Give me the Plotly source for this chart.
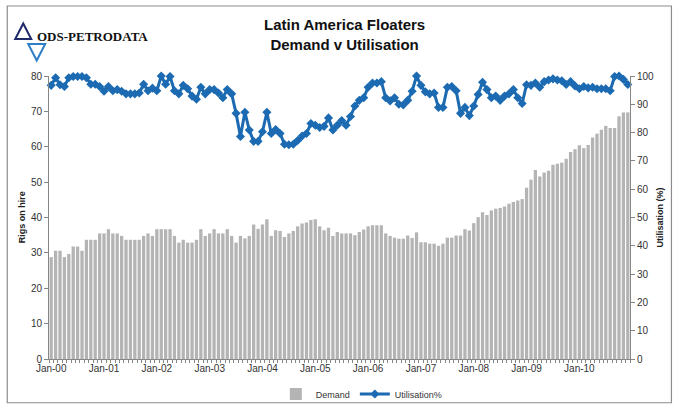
import plotly.graph_objects as go

# ---------------- data ----------------
year_labels = ["Jan-00", "Jan-01", "Jan-02", "Jan-03", "Jan-04", "Jan-05",
               "Jan-06", "Jan-07", "Jan-08", "Jan-09", "Jan-10"]

demand = [
    28.8, 30.6, 30.6, 28.8, 29.7, 31.8, 31.8, 30.6, 33.7, 33.7, 33.7, 35.5,
    35.5, 36.7, 35.5, 35.5, 34.8, 33.7, 33.7, 33.7, 33.7, 34.8, 35.5, 34.8,
    36.7, 36.7, 36.7, 36.7, 34.8, 32.9, 33.7, 32.9, 32.9, 33.7, 36.7, 34.8,
    35.5, 36.7, 35.5, 35.5, 36.7, 34.8, 32.9, 34.8, 34.1, 34.8, 38.0, 36.8,
    38.0, 39.5, 34.8, 36.4, 36.2, 34.5, 35.5, 36.2, 37.5, 38.3, 38.6, 39.3,
    39.5, 37.5, 36.4, 37.1, 34.8, 35.9, 35.5, 35.5, 35.5, 35.0, 35.9, 36.6,
    37.5, 37.8, 37.8, 37.8, 35.5, 34.8, 34.3, 34.0, 34.0, 34.9, 34.2, 35.8,
    33.0, 33.0, 32.6, 32.6, 32.0, 32.6, 34.3, 34.3, 34.9, 34.9, 36.7, 36.3,
    38.4, 40.1, 41.5, 40.7, 42.0, 42.5, 42.7, 43.1, 43.9, 44.4, 44.8, 45.2,
    48.4, 50.7, 53.4, 51.6, 52.7, 53.2, 54.9, 55.2, 55.5, 56.6, 58.5, 59.3,
    60.4, 59.6, 60.5, 62.6, 63.7, 64.8, 65.9, 65.3, 65.3, 68.6, 69.7, 69.7,
]

utilisation = [
    96.7, 99.4, 96.9, 96.3, 99.4, 99.8, 99.8, 99.8, 99.4, 97.1, 97.1, 96.3,
    94.6, 96.3, 94.8, 95.2, 94.6, 93.7, 93.7, 93.7, 94.0, 97.1, 94.8, 95.7,
    94.8, 100.0, 97.1, 99.8, 94.8, 93.7, 96.7, 95.5, 92.9, 91.8, 96.0, 93.7,
    95.2, 95.2, 94.0, 92.3, 95.2, 93.7, 86.8, 78.6, 87.2, 80.9, 76.9, 76.9,
    80.3, 87.2, 79.7, 81.1, 79.7, 75.9, 75.7, 75.9, 77.2, 78.8, 79.7, 83.2,
    82.6, 81.8, 82.2, 85.2, 80.9, 82.6, 84.3, 82.6, 85.7, 89.4, 91.4, 92.3,
    96.0, 97.5, 97.5, 98.0, 92.3, 91.2, 92.3, 90.0, 89.8, 91.4, 94.6, 100.0,
    96.7, 94.4, 93.7, 94.0, 88.9, 88.9, 96.0, 96.3, 94.8, 86.8, 88.9, 86.0,
    89.4, 93.5, 97.8, 95.2, 92.3, 92.9, 91.4, 92.9, 93.7, 95.2, 92.3, 90.3,
    96.9, 96.7, 97.5, 96.0, 98.0, 98.6, 99.0, 98.6, 98.3, 97.0, 98.0, 96.5,
    95.5, 96.3, 95.8, 96.0, 95.5, 95.5, 95.5, 94.8, 99.8, 100.0, 98.8, 97.0,
]

months = list(range(len(demand)))
tick_positions = months[::12]

# ---------------- layout helpers (pixel -> paper) ----------------
W, H = 680, 420
PL, PR, PT, PB = 48.8, 630.5, 76.0, 367.0
pw, ph = PR - PL, PB - PT


def px(x):
    return (x - PL) / pw


def py(y):
    return (PB - y) / ph


BAR_COLOR = "#B4B4B4"
LINE_COLOR = "#1C6AB1"
AXIS_COLOR = "#868686"
FONT = "Liberation Sans, Arial, sans-serif"

fig = go.Figure()
fig.add_trace(go.Bar(
    x=months, y=demand, name="Demand",
    marker=dict(color=BAR_COLOR, line=dict(width=0)),
    yaxis="y",
))
fig.add_trace(go.Scatter(
    x=months, y=utilisation, name="Utilisation%",
    mode="lines+markers", cliponaxis=False,
    line=dict(color=LINE_COLOR, width=3),
    marker=dict(symbol="diamond", size=7, color=LINE_COLOR),
    yaxis="y2",
))

tickfont = dict(family=FONT, size=10, color="#333333")

shapes = [
    # outer chart border
    dict(type="rect", xref="paper", yref="paper",
         x0=px(7), x1=px(672), y0=py(412), y1=py(4),
         line=dict(color="#8C8C8C", width=1.2), layer="below"),
    # logo: up triangle
    dict(type="path", xref="paper", yref="paper",
         path=f"M {px(15)},{py(38)} L {px(23)},{py(22)} L {px(31)},{py(38)} Z",
         line=dict(color="#1F2A6B", width=2)),
    # logo: down triangle
    dict(type="path", xref="paper", yref="paper",
         path=f"M {px(28)},{py(43)} L {px(45)},{py(43)} L {px(36.5)},{py(60)} Z",
         line=dict(color="#2E7EC8", width=2)),
]

annotations = [
    dict(text="<b>Latin America Floaters</b><br><b>Demand v Utilisation</b>",
         xref="paper", yref="paper", x=px(345), y=py(33),
         xanchor="center", yanchor="middle", showarrow=False,
         font=dict(family=FONT, size=15, color="#111111")),
    dict(text="<b>ODS-PETRODATA</b>", xref="paper", yref="paper",
         x=px(35), y=py(35), xanchor="left", yanchor="middle", showarrow=False,
         font=dict(family="Liberation Serif, Times New Roman, serif", size=13, color="#111111")),
    dict(text="<b>Rigs on hire</b>", xref="paper", yref="paper",
         x=px(22), y=py(221), textangle=-90, showarrow=False,
         xanchor="center", yanchor="middle",
         font=dict(family=FONT, size=9, color="#222222")),
    dict(text="<b>Utilisation (%)</b>", xref="paper", yref="paper",
         x=px(661), y=py(221), textangle=-90, showarrow=False,
         xanchor="center", yanchor="middle",
         font=dict(family=FONT, size=9, color="#222222")),
]

fig.update_layout(
    width=W, height=H, autosize=False,
    margin=dict(l=PL, r=W - PR, t=PT, b=H - PB, pad=0),
    paper_bgcolor="white", plot_bgcolor="white",
    bargap=0.25,
    showlegend=True,
    legend=dict(orientation="h", x=px(362), xanchor="center", y=py(403), yanchor="middle",
                font=dict(family=FONT, size=9, color="#333333"),
                itemwidth=30, bgcolor="rgba(0,0,0,0)"),
    xaxis=dict(
        range=[-0.5, len(months) - 0.5],
        tickvals=tick_positions, ticktext=year_labels,
        ticks="", showgrid=False, zeroline=False,
        showline=True, linecolor=AXIS_COLOR, linewidth=1,
        tickfont=tickfont,
        minor=dict(tick0=-0.5, dtick=1, ticks="outside", ticklen=3,
                   tickcolor=AXIS_COLOR, showgrid=False),
    ),
    yaxis=dict(
        range=[0, 80], dtick=10, tick0=0,
        ticks="outside", ticklen=4, tickcolor=AXIS_COLOR,
        showline=True, linecolor=AXIS_COLOR, linewidth=1,
        showgrid=False, zeroline=False, tickfont=tickfont,
    ),
    yaxis2=dict(
        range=[0, 100], dtick=10, tick0=0, overlaying="y", side="right",
        ticks="outside", ticklen=4, tickcolor=AXIS_COLOR,
        showline=True, linecolor=AXIS_COLOR, linewidth=1,
        showgrid=False, zeroline=False, tickfont=tickfont,
    ),
    shapes=shapes,
    annotations=annotations,
)

fig.write_html("out.html", config={"displayModeBar": False},
               post_script="document.body.style.margin='0';")
